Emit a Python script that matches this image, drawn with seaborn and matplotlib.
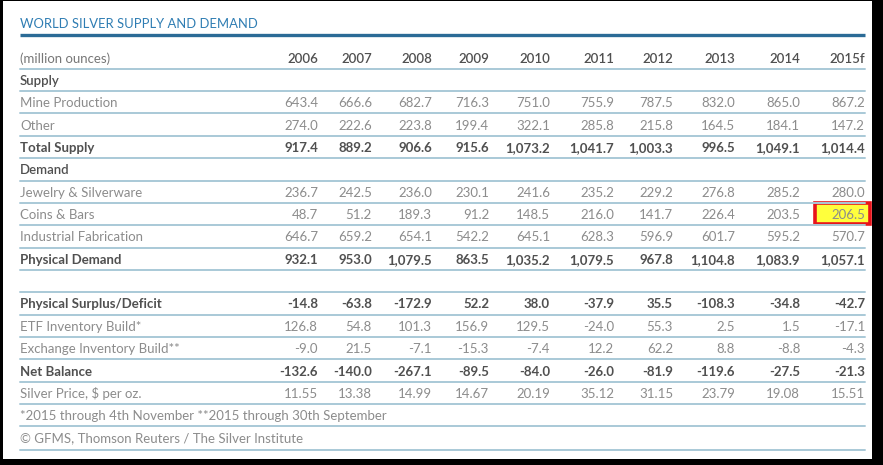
import matplotlib
matplotlib.use("Agg")
import matplotlib.pyplot as plt
import seaborn as sns
from matplotlib.patches import Rectangle

# -----------------------------
# Dados (milhões de onças)
# -----------------------------
years = ["2006", "2007", "2008", "2009", "2010", "2011", "2012", "2013", "2014", "2015f"]

mine_production = [643.4, 666.6, 682.7, 716.3, 751.0, 755.9, 787.5, 832.0, 865.0, 867.2]
other_supply = [274.0, 222.6, 223.8, 199.4, 322.1, 285.8, 215.8, 164.5, 184.1, 147.2]
total_supply = [917.4, 889.2, 906.6, 915.6, 1073.2, 1041.7, 1003.3, 996.5, 1049.1, 1014.4]

jewelry = [236.7, 242.5, 236.0, 230.1, 241.6, 235.2, 229.2, 276.8, 285.2, 280.0]
coins_bars = [48.7, 51.2, 189.3, 91.2, 148.5, 216.0, 141.7, 226.4, 203.5, 206.5]
industrial = [646.7, 659.2, 654.1, 542.2, 645.1, 628.3, 596.9, 601.7, 595.2, 570.7]
physical_demand = [932.1, 953.0, 1079.5, 863.5, 1035.2, 1079.5, 967.8, 1104.8, 1083.9, 1057.1]

surplus_deficit = [-14.8, -63.8, -172.9, 52.2, 38.0, -37.9, 35.5, -108.3, -34.8, -42.7]
etf_build = [126.8, 54.8, 101.3, 156.9, 129.5, -24.0, 55.3, 2.5, 1.5, -17.1]
exchange_build = [-9.0, 21.5, -7.1, -15.3, -7.4, 12.2, 62.2, 8.8, -8.8, -4.3]
net_balance = [-132.6, -140.0, -267.1, -89.5, -84.0, -26.0, -81.9, -119.6, -27.5, -21.3]
silver_price = [11.55, 13.38, 14.99, 14.67, 20.19, 35.12, 31.15, 23.79, 19.08, 15.51]

title = "WORLD SILVER SUPPLY AND DEMAND"
unit_label = "(million ounces)"
footnote = "*2015 through 4th November **2015 through 30th September"
source = "\u00a9 GFMS, Thomson Reuters / The Silver Institute"

# (rótulo, valores, estilo, formato)
rows = [
    ("Supply", None, "section", None),
    ("Mine Production", mine_production, "normal", "{:,.1f}"),
    ("Other", other_supply, "normal", "{:,.1f}"),
    ("Total Supply", total_supply, "bold", "{:,.1f}"),
    ("Demand", None, "section", None),
    ("Jewelry & Silverware", jewelry, "normal", "{:,.1f}"),
    ("Coins & Bars", coins_bars, "normal", "{:,.1f}"),
    ("Industrial Fabrication", industrial, "normal", "{:,.1f}"),
    ("Physical Demand", physical_demand, "bold", "{:,.1f}"),
    ("", None, "blank", None),
    ("Physical Surplus/Deficit", surplus_deficit, "bold", "{:,.1f}"),
    ("ETF Inventory Build*", etf_build, "normal", "{:,.1f}"),
    ("Exchange Inventory Build**", exchange_build, "normal", "{:,.1f}"),
    ("Net Balance", net_balance, "bold", "{:,.1f}"),
    ("Silver Price, $ per oz.", silver_price, "normal", "{:.2f}"),
    (footnote, None, "note", None),
    (source, None, "note", None),
]
highlight = ("Coins & Bars", "2015f")

# -----------------------------
# Layout
# -----------------------------
sns.set_theme(style="white")
plt.rcParams["font.family"] = ["Lato", "DejaVu Sans"]

W, H = 883, 465
fig = plt.figure(figsize=(W / 100, H / 100), dpi=100)
ax = fig.add_axes([0, 0, 1, 1])
ax.set_xlim(0, W)
ax.set_ylim(H, 0)
ax.axis("off")

left, right = 20, 865
col_right = [318, 372, 432, 489, 550, 614, 673, 735, 800, 865]
header_y = 57
pitch = 22.35
fs = 9.5
dy = 1.6  # ajuste vertical do texto

c_title = "#2f7db3"
c_rule = "#2b6b96"
c_line = "#a9c9d7"
c_dark = "#505050"
c_light = "#8c8c8c"

# moldura preta
ax.add_patch(Rectangle((0, 0), 3, H, color="black", lw=0))
ax.add_patch(Rectangle((0, 0), W, 1.2, color="black", lw=0))
ax.add_patch(Rectangle((872, 0), W - 872, H, color="black", lw=0))
ax.add_patch(Rectangle((0, 459), W, H - 459, color="black", lw=0))

# título
ax.text(left, 22 + dy, title, color=c_title, fontsize=9.4, va="center", ha="left")
ax.plot([left, right], [35, 35], color=c_rule, lw=2.4, solid_capstyle="butt")

# cabeçalho
ax.text(left, header_y + dy, unit_label, color="#777777", fontsize=fs, va="center")
for x, yr in zip(col_right, years):
    ax.text(x, header_y + dy, yr, color=c_dark, fontsize=fs, va="center", ha="right",
            fontweight="semibold")
ax.plot([left, right], [header_y + 11.8] * 2, color=c_line, lw=1.4)

for i, (label, vals, style, fmt) in enumerate(rows, start=1):
    y = header_y + i * pitch
    ty = y + dy
    if style == "section":
        ax.text(left, ty, label, color=c_dark, fontsize=fs, va="center", fontweight="semibold")
    elif style in ("normal", "bold"):
        col = c_dark if style == "bold" else c_light
        wt = "bold" if style == "bold" else "normal"
        ax.text(left, ty, label, color=col, fontsize=fs, va="center", fontweight=wt)
        for x, yr, v in zip(col_right, years, vals):
            if (label, yr) == highlight:
                ax.add_patch(Rectangle((x - 50, y - 10), 55, 21, facecolor="#ffff3c",
                                       edgecolor="#e8141b", lw=2.6, zorder=1))
            ax.text(x, ty, fmt.format(v), color=col, fontsize=fs, va="center",
                    ha="right", fontweight=wt, zorder=3)
    elif style == "note":
        ax.text(left, ty, label, color=c_light, fontsize=fs, va="center")
    off = 13.5 if i == len(rows) else 11.8
    ax.plot([left, right], [y + off] * 2, color=c_line, lw=1.4, zorder=2)

fig.savefig("out.png", dpi=100)
plt.close(fig)
